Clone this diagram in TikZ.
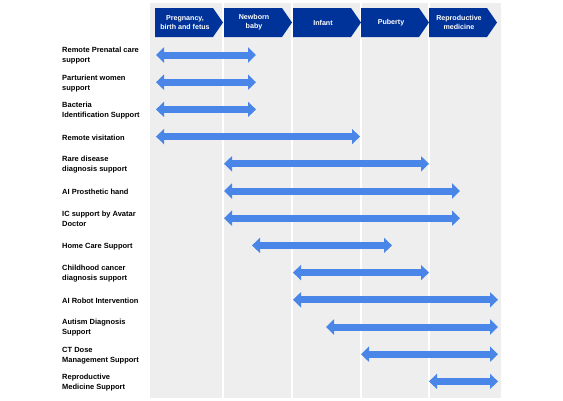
\documentclass[tikz,border=0pt]{standalone}
\usepackage{fontspec}
\setmainfont{Liberation Sans}
\usetikzlibrary{arrows.meta}
\definecolor{phaseblue}{RGB}{0,51,153}
\definecolor{spanblue}{RGB}{74,134,232}
\definecolor{colgray}{RGB}{238,238,238}
\begin{document}
\begin{tikzpicture}[
    x=1pt, y=-1pt,
    column/.style={fill=colgray, draw=none},
    chevron/.style={fill=phaseblue, draw=none},
    phase/.style={text=white, inner sep=0pt, align=center,
        font=\fontsize{7.1}{9}\selectfont\bfseries},
    task/.style={anchor=west, align=left, inner sep=0pt, font=\fontsize{7.5}{10}\selectfont\bfseries},
    span/.style={draw=spanblue, line width=7pt, {Triangle[length=8pt,width=15pt]}-{Triangle[length=8pt,width=15pt]}}
]
\useasboundingbox (0,0) rectangle (563,400);

% Gray columns
\foreach \xa/\xb in {150/222, 224/291, 293/359.5, 361.5/427.5, 429.5/501}
    \fill[column] (\xa,3) rectangle (\xb,398);

% Life stages
\foreach \n/\x/\txt in {1/155/{Pregnancy,\\birth and fetus}, 2/224/{Newborn\\baby}, 3/293/Infant,
        4/361/Puberty, 5/429/{Reproductive\\medicine}} {
    \fill[chevron] (\x,8) -- ++(58,0) -- ++(10,14.5) -- ++(-10,14.5) -- ++(-58,0) -- cycle;
    \node[phase] (ph\n) at (\x+30,22.5) {\txt};
}

% Support services and their spans
\foreach \i/\txt/\xa/\xb in {
        1/{Remote Prenatal care\\support}/156/256,
        2/{Parturient women\\support}/156/256,
        3/{Bacteria\\Identification Support}/156/256,
        4/{Remote visitation}/156/360,
        5/{Rare disease\\diagnosis support}/224/429,
        6/{AI Prosthetic hand}/224/460,
        7/{IC support by Avatar\\Doctor}/224/460,
        8/{Home Care Support}/252/392,
        9/{Childhood cancer\\diagnosis support}/293/429,
        10/{AI Robot Intervention}/293/498,
        11/{Autism Diagnosis\\Support}/326/498,
        12/{CT Dose\\Management Support}/361/498,
        13/{Reproductive\\Medicine Support}/429/498} {
    \pgfmathsetmacro{\y}{55+27.2*(\i-1)}
    \node[task] (t\i) at (62,\y+1) {\txt};
    \coordinate (s\i) at (\xa,\y);
    \coordinate (e\i) at (\xb,\y);
    \draw[span] (s\i) -- (e\i);
}
\end{tikzpicture}
\end{document}
